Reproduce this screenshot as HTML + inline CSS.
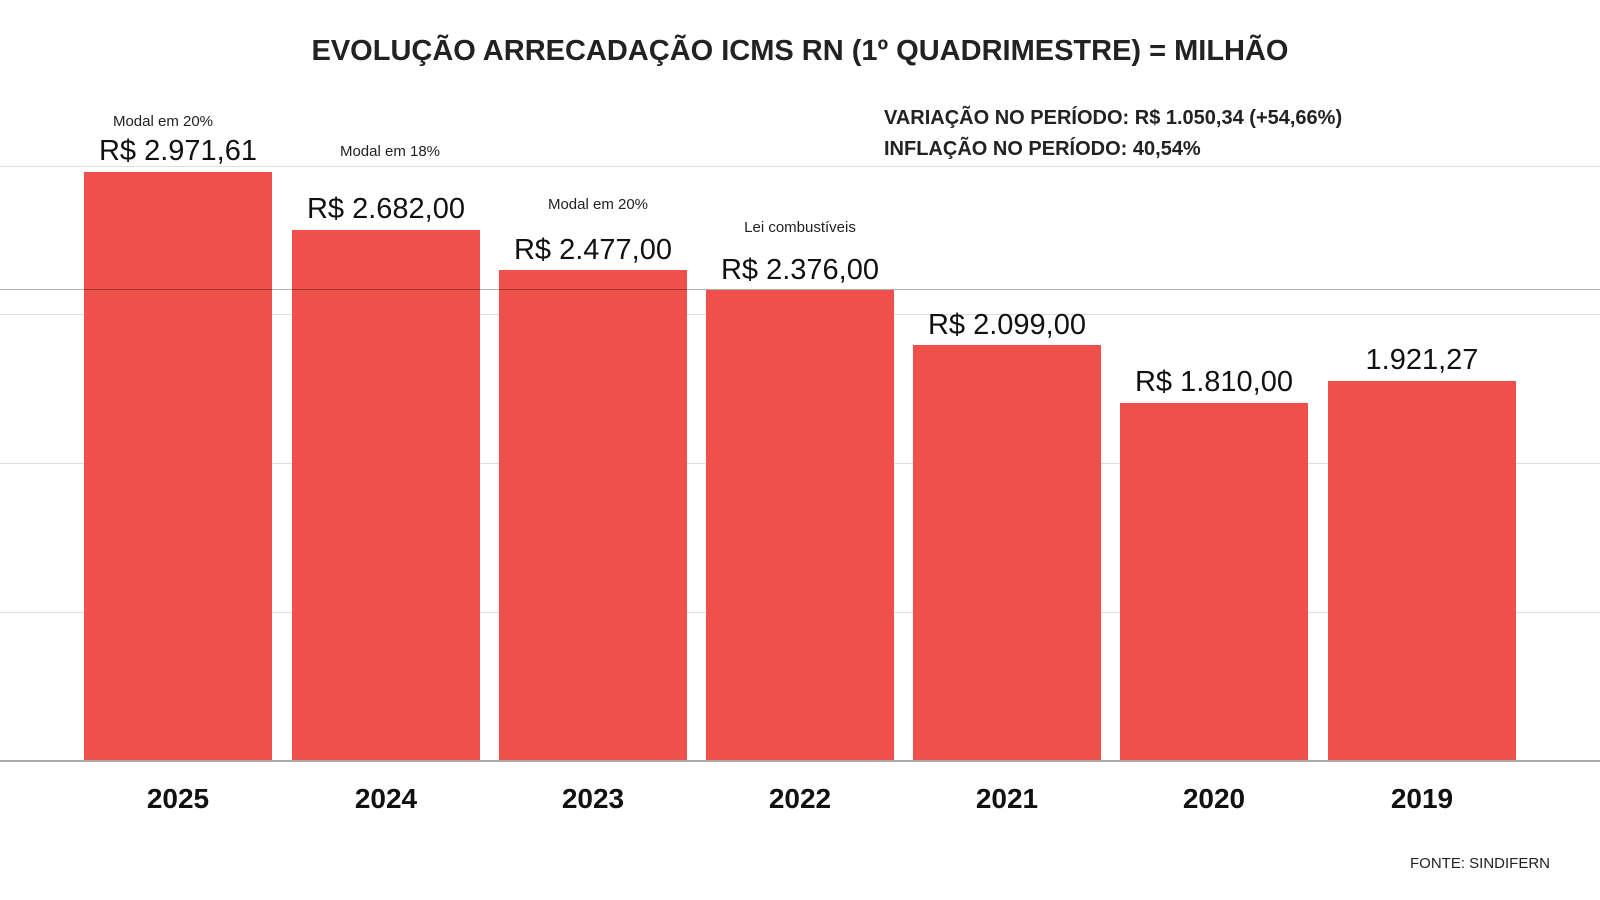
<!DOCTYPE html><html><head><style>
body{margin:0;width:1600px;height:900px;background:#fff;font-family:"Liberation Sans",sans-serif;position:relative;overflow:hidden;color:#111}
.a{position:absolute;white-space:nowrap}
.g{position:absolute;left:0;width:1600px;height:1px;background:#ddd}
.bar{position:absolute;background:#ef5049;width:188px}
.v{position:absolute;width:260px;text-align:center;font-size:29px}
.n{position:absolute;width:260px;text-align:center;font-size:15px;color:#222}
.y{position:absolute;width:188px;text-align:center;font-size:28px;font-weight:bold;top:783px}
</style></head><body>
<div class="a" style="left:0;width:1600px;text-align:center;top:35px;font-size:29px;font-weight:bold;color:#222">EVOLUÇÃO ARRECADAÇÃO ICMS RN (1º QUADRIMESTRE) = MILHÃO</div>
<div class="a" style="left:884px;top:107px;font-size:20px;font-weight:bold;color:#222">VARIAÇÃO NO PERÍODO: R$ 1.050,34 (+54,66%)</div>
<div class="a" style="left:884px;top:138px;font-size:20px;font-weight:bold;color:#222">INFLAÇÃO NO PERÍODO: 40,54%</div>
<div class="g" style="top:166px"></div><div class="g" style="top:314px"></div><div class="g" style="top:463px"></div><div class="g" style="top:612px"></div>
<div class="bar" style="left:84px;top:172px;height:589px"></div>
<div class="bar" style="left:292px;top:230px;height:531px"></div>
<div class="bar" style="left:499px;top:270px;height:491px"></div>
<div class="bar" style="left:706px;top:290px;height:471px"></div>
<div class="bar" style="left:913px;top:345px;height:416px"></div>
<div class="bar" style="left:1120px;top:403px;height:358px"></div>
<div class="bar" style="left:1328px;top:381px;height:380px"></div>
<div class="g" style="top:289px;background:rgba(0,0,0,0.3)"></div>
<div class="g" style="top:760px;height:2px;background:#aaa"></div>
<div class="n" style="left:33px;top:113px">Modal em 20%</div>
<div class="v" style="left:48px;top:135px">R$ 2.971,61</div>
<div class="n" style="left:260px;top:143px">Modal em 18%</div>
<div class="v" style="left:256px;top:193px">R$ 2.682,00</div>
<div class="n" style="left:468px;top:196px">Modal em 20%</div>
<div class="v" style="left:463px;top:234px">R$ 2.477,00</div>
<div class="n" style="left:670px;top:219px">Lei combustíveis</div>
<div class="v" style="left:670px;top:254px">R$ 2.376,00</div>
<div class="v" style="left:877px;top:309px">R$ 2.099,00</div>
<div class="v" style="left:1084px;top:366px">R$ 1.810,00</div>
<div class="v" style="left:1292px;top:344px">1.921,27</div>
<div class="y" style="left:84px">2025</div><div class="y" style="left:292px">2024</div><div class="y" style="left:499px">2023</div><div class="y" style="left:706px">2022</div><div class="y" style="left:913px">2021</div><div class="y" style="left:1120px">2020</div><div class="y" style="left:1328px">2019</div>
<div class="a" style="left:1410px;top:855px;font-size:15px;color:#222">FONTE: SINDIFERN</div>
</body></html>
